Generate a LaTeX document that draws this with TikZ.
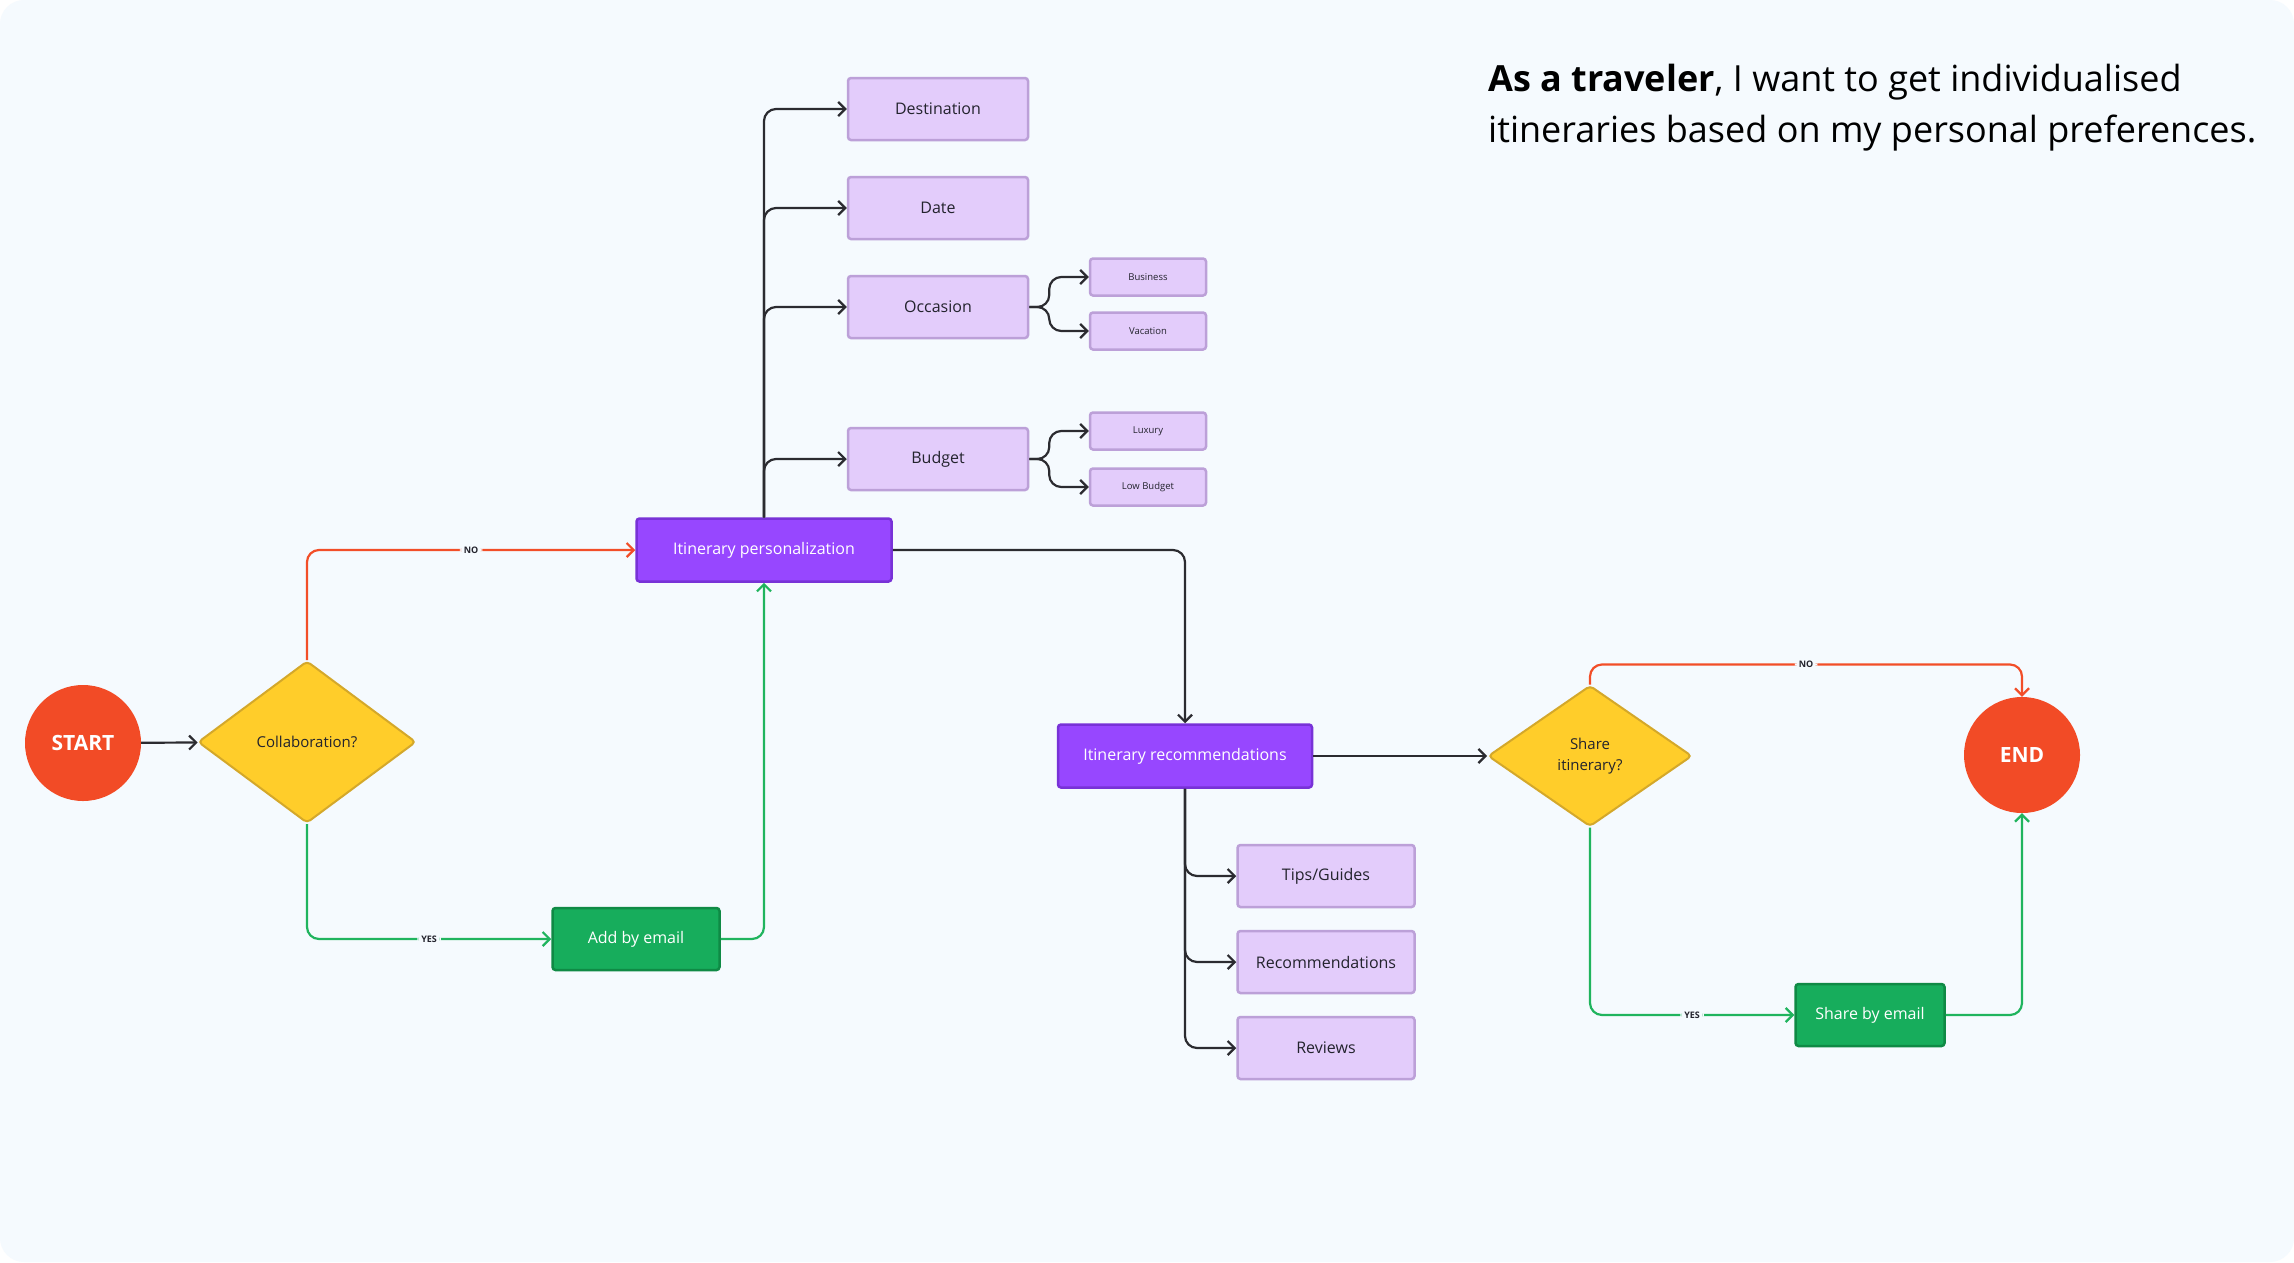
\documentclass[tikz,border=0pt]{standalone}
\usepackage{fontspec}
\setmainfont{Open Sans}
\usepackage{tikz}
\usetikzlibrary{arrows.meta,shapes.geometric,positioning}
\usepackage{xcolor}
\definecolor{tvbg}{RGB}{245,250,254}
\definecolor{tvred}{RGB}{242,75,38}
\definecolor{tvyellow}{RGB}{255,205,42}
\definecolor{tvyellowdark}{RGB}{212,168,42}
\definecolor{tvpurple}{RGB}{151,71,255}
\definecolor{tvpurpledark}{RGB}{120,50,215}
\definecolor{tvlilac}{RGB}{227,204,251}
\definecolor{tvlilacdark}{RGB}{188,160,216}
\definecolor{tvgreen}{RGB}{23,173,92}
\definecolor{tvgreendark}{RGB}{15,138,69}
\definecolor{tvline}{RGB}{43,43,48}
\definecolor{tvtext}{RGB}{35,35,45}
\definecolor{tvno}{RGB}{242,78,40}
\definecolor{tvyes}{RGB}{32,180,94}
\tikzstyle{arrow} = [line width=2.2pt,-{Straight Barb[length=7pt,width=14pt]},rounded corners=12pt,color=tvline]
\tikzstyle{terminal} = [circle, minimum size=116pt, inner sep=0pt, fill=tvred, text=white, font=\fontsize{21}{24}\selectfont\bfseries]
\tikzstyle{decision} = [diamond, inner sep=0pt, rounded corners=4pt, fill=tvyellow, draw=tvyellowdark, line width=2pt, text=tvtext, align=center, font=\fontsize{15}{21}\selectfont]
\tikzstyle{actionbox} = [rectangle, rounded corners=3pt, minimum width=254pt, minimum height=63pt, fill=tvpurple, draw=tvpurpledark, line width=2.5pt, text=white, font=\fontsize{16}{18}\selectfont]
\tikzstyle{emailbox} = [rectangle, rounded corners=3pt, minimum height=62pt, fill=tvgreen, draw=tvgreendark, line width=2.5pt, text=white, font=\fontsize{16}{18}\selectfont]
\tikzstyle{prefbox} = [rectangle, rounded corners=3pt, minimum width=180pt, minimum height=62pt, fill=tvlilac, draw=tvlilacdark, line width=2.5pt, text=tvtext, font=\fontsize{16}{18}\selectfont]
\tikzstyle{subbox} = [rectangle, rounded corners=3pt, minimum width=116pt, minimum height=37pt, fill=tvlilac, draw=tvlilacdark, line width=2.5pt, text=tvtext, font=\fontsize{9.5}{12}\selectfont]
\tikzstyle{answer} = [fill=tvbg, inner sep=4pt, text=tvtext, font=\fontsize{9}{10}\selectfont\bfseries]

\begin{document}
\begin{tikzpicture}[x=1pt,y=-1pt]
% Canvas
\fill[white] (0,0) rectangle (2294,1262);
\fill[tvbg, rounded corners=24pt] (0,0) rectangle (2294,1262);
\useasboundingbox (0,0) rectangle (2294,1262);

% User story
\node[anchor=north west, align=left, inner sep=0pt, text=black, font=\fontsize{36}{51}\selectfont] (story) at (1488,64) {\textbf{As a traveler}, I want to get individualised\\itineraries based on my personal preferences.};

% Start and collaboration
\node[terminal] (start) at (83,743) {START};
\node[decision, minimum width=218pt, minimum height=162pt] (collab) at (307,742) {Collaboration?};
\node[actionbox, minimum width=255pt] (ipers) at (764,550) {Itinerary personalization};
\node[emailbox, minimum width=167pt] (addmail) at (636,939) {Add by email};

% Preferences
\node[prefbox] (dest) at (938,109) {Destination};
\node[prefbox] (date) at (938,208) {Date};
\node[prefbox] (occ) at (938,307) {Occasion};
\node[prefbox] (budget) at (938,459) {Budget};
\node[subbox] (business) at (1148,277) {Business};
\node[subbox] (vacation) at (1148,331) {Vacation};
\node[subbox] (luxury) at (1148,431) {Luxury};
\node[subbox] (lowbudget) at (1148,487) {Low Budget};

% Recommendations
\node[actionbox] (irec) at (1185,756) {Itinerary recommendations};
\node[prefbox, minimum width=177pt] (tips) at (1326,876) {Tips/Guides};
\node[prefbox, minimum width=177pt] (recs) at (1326,962) {Recommendations};
\node[prefbox, minimum width=177pt] (reviews) at (1326,1048) {Reviews};

% Sharing and end
\node[decision, minimum width=204pt, minimum height=141pt] (share) at (1590,756) {Share\\itinerary?};
\node[emailbox, minimum width=149pt] (sharemail) at (1870,1015) {Share by email};
\node[terminal] (end) at (2022,755) {END};

% Arrows
\draw[arrow] (start) -- (collab);
\draw[arrow, tvno] (collab.north) |- node[answer, pos=0.75] {NO} (ipers.west);
\draw[arrow, tvyes] (collab.south) |- node[answer, pos=0.75] {YES} (addmail.west);
\draw[arrow, tvyes] (addmail.east) -| (ipers.south);
\foreach \p in {dest,date,occ,budget}
  \draw[arrow] (ipers.north) |- (\p.west);
\foreach \s in {business,vacation}
  \draw[arrow] (occ.east) -- ++(20,0) |- (\s.west);
\foreach \s in {luxury,lowbudget}
  \draw[arrow] (budget.east) -- ++(20,0) |- (\s.west);
\draw[arrow] (ipers.east) -| (irec.north);
\foreach \r in {tips,recs,reviews}
  \draw[arrow] (irec.south) |- (\r.west);
\draw[arrow] (irec) -- (share);
\draw[arrow, tvno] (share.north) -- ++(0,-20) -| node[answer, pos=0.25] {NO} (end.north);
\draw[arrow, tvyes] (share.south) |- node[answer, pos=0.75] {YES} (sharemail.west);
\draw[arrow, tvyes] (sharemail.east) -| (end.south);
\end{tikzpicture}
\end{document}
